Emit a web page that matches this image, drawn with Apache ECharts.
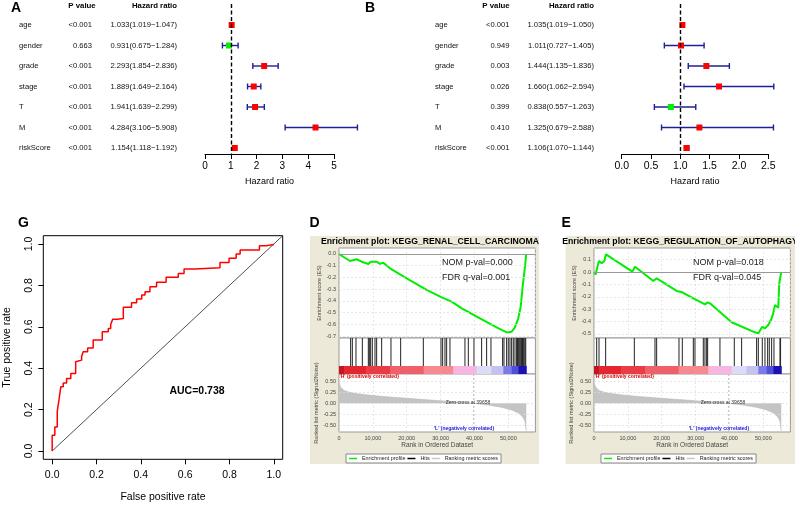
<!DOCTYPE html>
<html><head><meta charset="utf-8">
<script src="https://cdn.jsdelivr.net/npm/echarts@6/dist/echarts.min.js"></script>
<style>html,body{margin:0;padding:0;background:#fff}#c{width:795px;height:505px}</style>
</head><body><div id="c"></div>
<script>
// ---------------- DATA ----------------
const varNames = ['age','gender','grade','stage','T','M','riskScore'];
// Panel A (univariate)
const pA  = ['<0.001','0.663','<0.001','<0.001','<0.001','<0.001','<0.001'];
const hrA = [1.033,0.931,2.293,1.889,1.941,4.284,1.154];
const loA = [1.019,0.675,1.854,1.649,1.639,3.106,1.118];
const hiA = [1.047,1.284,2.836,2.164,2.299,5.908,1.192];
// Panel B (multivariate)
const pB  = ['<0.001','0.949','0.003','0.026','0.399','0.410','<0.001'];
const hrB = [1.035,1.011,1.444,1.660,0.838,1.325,1.106];
const loB = [1.019,0.727,1.135,1.062,0.557,0.679,1.070];
const hiB = [1.050,1.405,1.836,2.594,1.263,2.588,1.144];
// Panel G (ROC) - step corners
const rocFpr = [0,0,0.012,0.023,0.032,0.039,0.050,0.065,0.084,0.106,0.113,0.133,0.140,0.160,0.185,0.226,0.253,0.264,0.273,0.294,0.321,0.358,0.381,0.404,0.419,0.441,0.471,0.514,0.569,0.595,0.645,0.757,0.798,0.830,0.848,0.935,0.965,1.0];
const rocTpr = [0,0.076,0.116,0.192,0.257,0.310,0.329,0.350,0.374,0.431,0.439,0.458,0.479,0.498,0.536,0.576,0.592,0.611,0.637,0.640,0.694,0.716,0.734,0.753,0.769,0.794,0.815,0.839,0.858,0.879,0.885,0.911,0.931,0.952,0.971,0.992,0.998,1.0];
const rocTicks = [0,0.2,0.4,0.6,0.8,1.0];
const aucLabel = 'AUC=0.738';
// Panel D (GSEA renal cell carcinoma)
const esRankD = [0,3250,5220,6690,8660,9350,11120,12100,13090,15060,19980,25890,30320,33270,36230,41630,46560,49510,50990,51960,52940,53650,54240,54920,55300];
const esValD  = [0,-0.060,-0.045,-0.066,-0.085,-0.066,-0.066,-0.085,-0.074,-0.122,-0.208,-0.307,-0.370,-0.407,-0.464,-0.549,-0.626,-0.669,-0.663,-0.626,-0.549,-0.450,-0.279,-0.108,0];
const hitsD = [3440,3940,5020,6890,8660,8960,9350,9840,10630,11120,12600,15350,18210,24900,30120,30610,31300,31790,32770,37200,38190,39860,42120,43600,44880,48320,48720,49500,49990,50490,50980,51470,51970,52460,52700,52950,53200,53440,53700,53930,54200,54420,54650,54920,55150];
const esTicksD = [0,-0.1,-0.2,-0.3,-0.4,-0.5,-0.6,-0.7];
// Panel E (GSEA regulation of autophagy)
const esRankE = [0,500,1000,1480,2260,2750,3050,3540,11320,12110,17520,18520,19000,24410,25390,26090,29340,32770,33560,34250,40650,47530,48520,49010,49700,50490,50980,51460,52260,52940,53440,53930,54420,54710,55300];
const esValE  = [0,-0.020,0.043,0.089,0.070,0.057,0.089,0.143,0.003,0.043,-0.073,-0.051,-0.057,-0.153,-0.159,-0.164,-0.213,-0.261,-0.245,-0.253,-0.406,-0.487,-0.495,-0.487,-0.442,-0.455,-0.468,-0.428,-0.388,-0.334,-0.267,-0.280,-0.288,-0.091,0];
const hitsE = [790,1480,3440,11910,18010,18500,25100,26080,29330,29820,32280,32770,33270,33560,37200,41430,43600,48030,48520,49700,50490,51280,51770,52460,53150,54920,55100];
const esTicksE = [0.1,0,-0.1,-0.2,-0.3,-0.4,-0.5];
// Shared ranked list metric
const rankX = [0,500,1500,3000,5000,8000,13000,18000,23000,28000,34000,39658,44000,48000,51000,53000,54300,54900,55300];
const rankY = [0.46,0.36,0.29,0.25,0.22,0.19,0.155,0.125,0.095,0.068,0.035,0,-0.04,-0.09,-0.15,-0.22,-0.31,-0.40,-0.62];
const zeroCross = 39658;
const rankTicks = [0.5,0.25,0,-0.25,-0.5];
const rankXTicks = [0,10000,20000,30000,40000,50000];
const cbEdges = [0,1500,8000,15060,25000,33760,40650,45000,48520,51000,52950,55300];

// ---------------- STYLE ----------------
const FONT = 'Liberation Sans, Arial, sans-serif';
const cbColors = ['#c8141e','#e3262f','#ea3c45','#f0606a','#f58a90','#f7b6e2','#dcdcf7','#c3c3f2','#7a7ae9','#4f4fdc','#1c10b6'];
const HIT_BASE = 8/36;

function T(text, x, y, size, o) {
  o = o || {};
  return {type:'text', x:x, y:y, z:100, rotation:o.rot||0, silent:true,
    style:{text:text, fontSize:size, fontFamily:FONT, fontWeight:o.bold?'bold':'normal', fill:o.color||'#000',
      align:o.align||'left', textAlign:o.align||'left', verticalAlign:'middle', textVerticalAlign:'middle'}};
}
const fmtHR = (h,l,u) => h.toFixed(3)+'('+l.toFixed(3)+'\u2212'+u.toFixed(3)+')';

const grids = [], xAxes = [], yAxes = [], series = [];

// ---- Forest plots ----
function forest(gi, left, width, xmax, xint, tickFont, pv, hr, lo, hi, xName, xP, xHR) {
  grids.push({left:left, top:4, width:width, height:150, outerBoundsMode:'none'});
  xAxes.push({gridIndex:gi, type:'value', min:0, max:xmax, interval:xint, position:'bottom',
    axisLine:{onZero:false, lineStyle:{color:'#000', width:1}}, axisTick:{length:5, lineStyle:{color:'#000'}},
    axisLabel:{fontSize:tickFont, fontFamily:FONT, color:'#000', margin:7, formatter: v => xint<1 ? v.toFixed(1) : String(v)},
    splitLine:{show:false}, name:'Hazard ratio', nameLocation:'middle', nameGap:23,
    nameTextStyle:{fontSize:9, fontFamily:FONT, color:'#000'}});
  yAxes.push({gridIndex:gi, type:'value', inverse:true, min:-0.0244, max:7.2927, show:false, axisLine:{onZero:false}});
  series.push({type:'custom', xAxisIndex:gi, yAxisIndex:gi, clip:false, silent:true, z:4,
    data: hr.map((h,i)=>[lo[i], hi[i], h, i+1]),
    encode:{x:[0,1,2], y:3},
    renderItem:(params, api)=>{
      const r = api.value(3);
      const l = api.coord([api.value(0), r]), u = api.coord([api.value(1), r]), m = api.coord([api.value(2), r]);
      const c = api.value(2) < 1 ? '#00ee00' : '#ff0000';
      const st = {stroke:'#1f1f96', lineWidth:1.4};
      return {type:'group', children:[
        {type:'line', shape:{x1:l[0],y1:l[1],x2:u[0],y2:u[1]}, style:st},
        {type:'line', shape:{x1:l[0],y1:l[1]-3,x2:l[0],y2:l[1]+3}, style:st},
        {type:'line', shape:{x1:u[0],y1:u[1]-3,x2:u[0],y2:u[1]+3}, style:st},
        {type:'rect', shape:{x:m[0]-3,y:m[1]-3,width:6,height:6}, style:{fill:c}}
      ]};
    },
    markLine:{silent:true, symbol:'none', label:{show:false}, lineStyle:{color:'#000', type:[4,2.5], width:1.4},
      data:[{xAxis:1}]}
  });
  series.push({type:'custom', xAxisIndex:gi, yAxisIndex:gi, clip:false, silent:true, z:5,
    data: varNames.map((n,i)=>[0, i+1]), encode:{x:0, y:1},
    renderItem:(params, api)=>{
      const i = params.dataIndex;
      const y = api.coord([0, api.value(1)])[1];
      const mk = (t,x,al)=>({type:'text', x:x, y:y, style:{text:t, fontSize:7.6, fontFamily:FONT, fill:'#111',
        align:al, textAlign:al, verticalAlign:'middle', textVerticalAlign:'middle'}});
      return {type:'group', children:[mk(varNames[i], xName, 'left'), mk(pv[i], xP, 'right'), mk(fmtHR(hr[i],lo[i],hi[i]), xHR, 'right')]};
    }});
}
forest(0, 205, 129, 5, 1, 10, pA, hrA, loA, hiA, 19, 92, 177);
forest(1, 621.7, 146.6, 2.5, 0.5, 10.5, pB, hrB, loB, hiB, 435, 509.5, 594);

// ---- ROC ----
grids.push({left:43.3, top:235.7, width:239.4, height:223.6, show:true, borderColor:'#000', borderWidth:1, backgroundColor:'transparent', outerBoundsMode:'none'});
xAxes.push({gridIndex:2, type:'value', min:-0.04, max:1.04, position:'bottom', axisLine:{show:false, onZero:false},
  axisTick:{show:true, length:5, customValues:rocTicks, lineStyle:{color:'#000'}},
  axisLabel:{customValues:rocTicks, formatter:v=>v.toFixed(1), fontSize:10.5, fontFamily:FONT, color:'#000', margin:10},
  splitLine:{show:false}, name:'False positive rate', nameLocation:'middle', nameGap:32,
  nameTextStyle:{fontSize:10.5, fontFamily:FONT, color:'#000'}});
yAxes.push({gridIndex:2, type:'value', min:-0.04, max:1.04, position:'left', axisLine:{show:false, onZero:false},
  axisTick:{show:true, length:5, customValues:rocTicks, lineStyle:{color:'#000'}},
  axisLabel:{customValues:rocTicks, formatter:v=>v.toFixed(1), fontSize:10.5, fontFamily:FONT, color:'#000', margin:9, rotate:90},
  splitLine:{show:false}, name:'True positive rate', nameLocation:'middle', nameGap:31,
  nameTextStyle:{fontSize:10.5, fontFamily:FONT, color:'#000'}});
series.push({type:'line', xAxisIndex:2, yAxisIndex:2, silent:true, symbol:'none', data:[[0,0],[1.04,1.04]],
  lineStyle:{color:'#222', width:0.8}, z:2});
series.push({type:'line', xAxisIndex:2, yAxisIndex:2, silent:true, symbol:'none', step:'end',
  data: rocFpr.map((f,i)=>[f, rocTpr[i]]), lineStyle:{color:'#ff0000', width:1.5}, z:3});

// ---- GSEA ----
function gsea(g0, left, esR, esV, hits, esTicks, esMin, esMax) {
  const W = 196.4, XMAX = 58000;
  const gl = {color:'#dcdcdc', type:[2,2], width:0.7};
  grids.push({left:left, top:248, width:W, height:90, show:true, backgroundColor:'#fff', borderColor:'#999', borderWidth:1, outerBoundsMode:'none'});
  grids.push({left:left, top:338, width:W, height:36, show:true, backgroundColor:'#fff', borderColor:'#999', borderWidth:1, outerBoundsMode:'none'});
  grids.push({left:left, top:374, width:W, height:58, show:true, backgroundColor:'#fff', borderColor:'#999', borderWidth:1, outerBoundsMode:'none'});
  const small = {fontSize:5.5, fontFamily:FONT, color:'#444'};
  xAxes.push({gridIndex:g0, type:'value', min:0, max:XMAX, interval:10000, position:'bottom', axisLine:{show:false, onZero:false}, axisTick:{show:false}, axisLabel:{show:false},
    splitLine:{show:true, lineStyle:gl}});
  yAxes.push({gridIndex:g0, type:'value', min:esMin, max:esMax, position:'left', axisLine:{show:false, onZero:false},
    axisTick:{show:false, customValues:esTicks}, axisLabel:Object.assign({customValues:esTicks, formatter:v=>v.toFixed(1), margin:3}, small),
    splitLine:{show:false}, name:'Enrichment score (ES)', nameLocation:'middle', nameGap:15, nameTextStyle:{fontSize:5.5, fontFamily:FONT, color:'#444'}});
  xAxes.push({gridIndex:g0+1, type:'value', min:0, max:XMAX, show:false, axisLine:{onZero:false}});
  yAxes.push({gridIndex:g0+1, type:'value', min:0, max:1, show:false, axisLine:{onZero:false}});
  xAxes.push({gridIndex:g0+2, type:'value', min:0, max:XMAX, interval:10000, position:'bottom', axisLine:{show:false, onZero:false},
    axisTick:{show:false, customValues:rankXTicks},
    axisLabel:Object.assign({customValues:rankXTicks, formatter:v=>v.toLocaleString('en-US'), margin:3}, small),
    splitLine:{show:true, lineStyle:gl}, name:'Rank in Ordered Dataset', nameLocation:'middle', nameGap:10,
    nameTextStyle:{fontSize:6.5, fontFamily:FONT, color:'#444'}});
  yAxes.push({gridIndex:g0+2, type:'value', min:-0.646, max:0.66, position:'left', axisLine:{show:false, onZero:false},
    axisTick:{show:false, customValues:rankTicks}, axisLabel:Object.assign({customValues:rankTicks, formatter:v=>v.toFixed(2), margin:3}, small),
    splitLine:{show:false}, name:'Ranked list metric (Signal2Noise)', nameLocation:'middle', nameGap:18,
    nameTextStyle:{fontSize:5.5, fontFamily:FONT, color:'#444'}});
  series.push({type:'line', name:'Enrichment profile', xAxisIndex:g0, yAxisIndex:g0, silent:true, symbol:'none',
    data: esR.map((r,i)=>[r, esV[i]]), color:'#00ee00', lineStyle:{color:'#00ee00', width:2}, z:3,
    markLine:{silent:true, symbol:'none', label:{show:false}, lineStyle:gl,
      data: esTicks.map(v=>({yAxis:v})).concat([{yAxis:0, lineStyle:{color:'#999', type:'solid', width:1}}])}});
  series.push({type:'custom', name:'Hits', xAxisIndex:g0+1, yAxisIndex:g0+1, silent:true, itemStyle:{color:'#000'}, color:'#000',
    data: hits.map(h=>[h]), encode:{x:0},
    renderItem:(params, api)=>{
      const a = api.coord([api.value(0), 1]), b = api.coord([api.value(0), HIT_BASE]);
      return {type:'line', shape:{x1:a[0], y1:a[1], x2:b[0], y2:b[1]}, style:{stroke:'#222', lineWidth:1}};
    }});
  series.push({type:'custom', xAxisIndex:g0+1, yAxisIndex:g0+1, silent:true,
    data: cbEdges.slice(0,-1).map((s,i)=>[s, cbEdges[i+1], i]), encode:{x:[0,1]},
    renderItem:(params, api)=>{
      const a = api.coord([api.value(0), HIT_BASE]), b = api.coord([api.value(1), 0]);
      return {type:'rect', shape:{x:a[0], y:a[1], width:b[0]-a[0]+0.5, height:b[1]-a[1]}, style:{fill:cbColors[api.value(2)]}};
    }});
  series.push({type:'line', name:'Ranking metric scores', xAxisIndex:g0+2, yAxisIndex:g0+2, silent:true, symbol:'none',
    data: rankX.map((r,i)=>[r, rankY[i]]), color:'#c8c8c8', lineStyle:{color:'#b8b8b8', width:0.6},
    areaStyle:{color:'#c4c4c4', opacity:1}, z:3,
    markLine:{silent:true, symbol:'none', label:{show:false}, lineStyle:gl,
      data: rankTicks.map(v=>({yAxis:v})).concat([{xAxis:zeroCross, lineStyle:{color:'#bbb', type:[2,2], width:0.8}}])}});
}
gsea(3, 339, esRankD, esValD, hitsD, esTicksD, -0.717, 0.051);
gsea(6, 594, esRankE, esValE, hitsE, esTicksE, -0.533, 0.194);

const legendCommon = {orient:'horizontal', icon:'rect', itemWidth:8, itemHeight:1.5, itemGap:2, padding:[2,3],
  backgroundColor:'#fff', borderColor:'#888', borderWidth:1, selectedMode:false,
  textStyle:{fontSize:5.4, fontFamily:FONT, color:'#222'},
  data:['Enrichment profile','Hits','Ranking metric scores']};

const graphics = [
  {type:'rect', z:-10, silent:true, shape:{x:310, y:236, width:229, height:228}, style:{fill:'#ece9d8'}},
  {type:'rect', z:-10, silent:true, shape:{x:565.7, y:236, width:229.3, height:228}, style:{fill:'#ece9d8'}},
  T('A', 11, 8.5, 14, {bold:true}), T('B', 365, 8.5, 14, {bold:true}),
  T('G', 18, 223, 14, {bold:true}), T('D', 309.5, 223, 14, {bold:true}), T('E', 561.5, 223, 14, {bold:true}),
  T('P value', 82, 6, 7.8, {bold:true, align:'center'}), T('Hazard ratio', 177, 6, 7.8, {bold:true, align:'right'}),
  T('P value', 496, 6, 7.8, {bold:true, align:'center'}), T('Hazard ratio', 594, 6, 7.8, {bold:true, align:'right'}),
  T(aucLabel, 197, 391, 10.5, {bold:true, align:'center'}),
  T('Enrichment plot: KEGG_RENAL_CELL_CARCINOMA', 430, 242, 8.7, {bold:true, align:'center'}),
  T('Enrichment plot: KEGG_REGULATION_OF_AUTOPHAGY', 680, 242, 8.7, {bold:true, align:'center'}),
  T('NOM p-val=0.000', 442, 263, 9, {color:'#222'}), T('FDR q-val=0.001', 442, 278, 9, {color:'#222'}),
  T('NOM p-val=0.018', 693, 263, 9, {color:'#222'}), T('FDR q-val=0.045', 693, 278, 9, {color:'#222'}),
  T("'H' (positively correlated)", 339.5, 377, 5, {color:'#e00000', bold:true}),
  T("'H' (positively correlated)", 594.5, 377, 5, {color:'#e00000', bold:true}),
  T("'L' (negatively correlated)", 464, 428.7, 5, {color:'#2020e0', bold:true, align:'center'}),
  T("'L' (negatively correlated)", 719, 428.5, 5, {color:'#2020e0', bold:true, align:'center'}),
  T('Zero cross at 39658', 468, 403, 5, {color:'#333', align:'center'}),
  T('Zero cross at 39658', 723, 403, 5, {color:'#333', align:'center'})
];

const chart = echarts.init(document.getElementById('c'), null, {renderer:'canvas', width:795, height:505});
chart.setOption({
  animation:false, backgroundColor:'#fff',
  textStyle:{fontFamily:FONT},
  grid:grids, xAxis:xAxes, yAxis:yAxes, series:series,
  legend:[Object.assign({left:346, top:454}, legendCommon), Object.assign({left:601, top:454}, legendCommon)],
  graphic:graphics
});
</script></body></html>
